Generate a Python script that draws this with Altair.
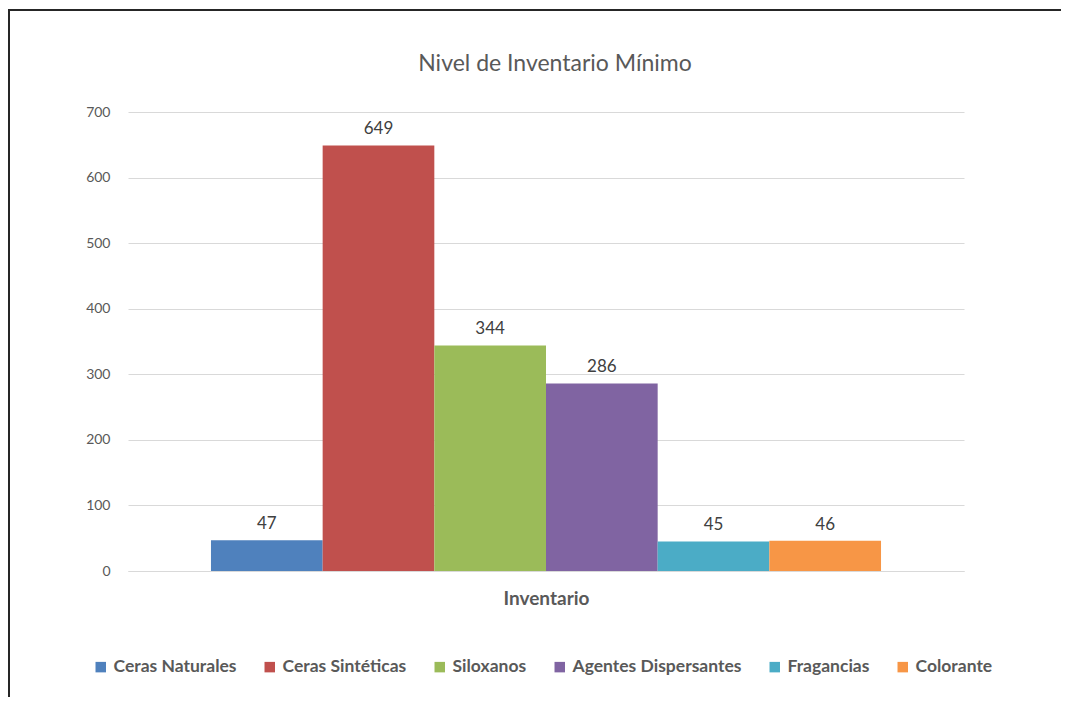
import altair as alt
import pandas as pd

series = ["Ceras Naturales", "Ceras Sintéticas", "Siloxanos", "Agentes Dispersantes", "Fragancias", "Colorante"]
values = [47, 649, 344, 286, 45, 46]
colors = ["#4F81BD", "#C0504D", "#9BBB59", "#8064A2", "#4BACC6", "#F79646"]
y_ticks = [0, 100, 200, 300, 400, 500, 600, 700]
category = "Inventario"

df = pd.DataFrame({"Serie": series, "Valor": values})

FONT = "Lato"
GRAY = "#595959"

x_enc = alt.X(
    "Serie:N",
    sort=series,
    scale=alt.Scale(paddingInner=0, paddingOuter=0.743),
    axis=alt.Axis(
        title=category,
        labels=False,
        ticks=False,
        domainColor="#d9d9d9",
        titleFont=FONT,
        titleFontSize=19,
        titleFontWeight="bold",
        titleColor=GRAY,
        titlePadding=18,
    ),
)

base = alt.Chart(df)

bars = base.mark_bar().encode(
    x=x_enc,
    y=alt.Y(
        "Valor:Q",
        scale=alt.Scale(domain=[0, 700]),
        axis=alt.Axis(
            values=y_ticks,
            title=None,
            domain=False,
            ticks=False,
            labelFont=FONT,
            labelFontSize=14,
            labelColor=GRAY,
            labelPadding=18,
            gridColor="#d9d9d9",
        ),
    ),
    color=alt.Color(
        "Serie:N",
        sort=series,
        scale=alt.Scale(domain=series, range=colors),
        legend=alt.Legend(
            title=None,
            orient="none",
            direction="horizontal",
            legendX=-36,
            legendY=546,
            symbolType="square",
            symbolSize=110,
            symbolStrokeWidth=0,
            labelFont=FONT,
            labelFontSize=17.5,
            labelFontWeight="bold",
            labelColor=GRAY,
            labelOffset=4,
            labelLimit=400,
            columnPadding=24,
        ),
    ),
)

labels = base.mark_text(
    baseline="bottom", dy=-7, font=FONT, fontSize=17, color="#404040"
).encode(
    x=alt.X("Serie:N", sort=series),
    y="Valor:Q",
    text="Valor:Q",
)

frame = alt.Chart(pd.DataFrame({"a": [0]})).mark_rect(
    fillOpacity=0, stroke="#262626", strokeWidth=2
).encode(
    x=alt.value(-119), x2=alt.value(1100), y=alt.value(-102), y2=alt.value(800)
)

chart = (
    alt.layer(bars, labels, frame)
    .properties(
        width=836,
        height=459,
        title=alt.TitleParams(
            "Nivel de Inventario Mínimo",
            font=FONT,
            fontSize=23,
            fontWeight="normal",
            color=GRAY,
            anchor="middle",
            offset=-67,
            dx=9,
        ),
        autosize=alt.AutoSizeParams(type="none"),
        padding={"left": 120, "top": 104, "right": 97, "bottom": 126},
    )
    .configure(background="white", view=alt.ViewConfig(strokeWidth=0))
)

chart.save("out.html", embed_options={"renderer": "svg", "actions": False})
